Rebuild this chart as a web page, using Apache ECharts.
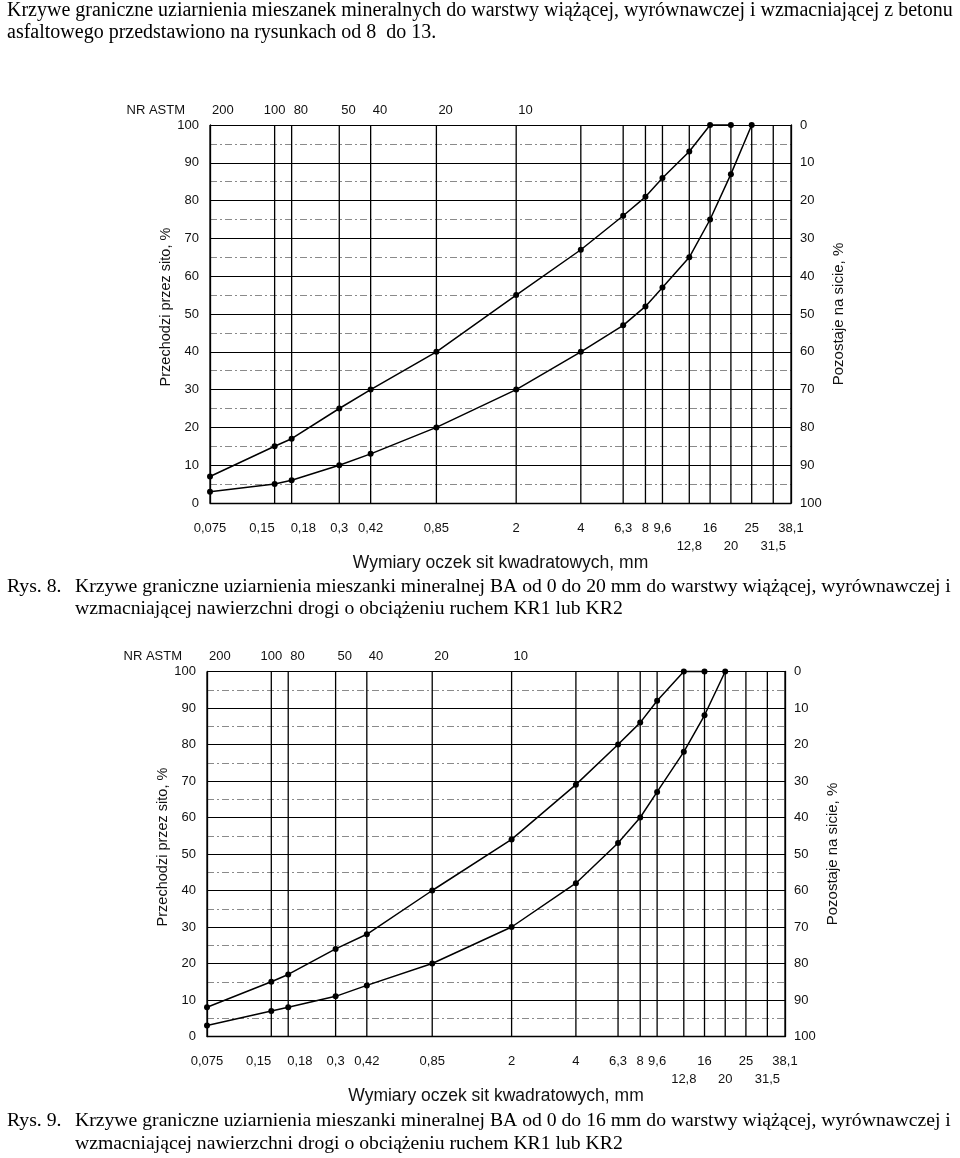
<!DOCTYPE html>
<html>
<head>
<meta charset="utf-8">
<script src="https://cdn.jsdelivr.net/npm/echarts@6/dist/echarts.min.js"></script>
<style>
  html, body { margin: 0; padding: 0; background: #fff; }
  #chart { width: 960px; height: 1158px; }
</style>
</head>
<body>
<div id="chart"></div>
<script>
// ---- sieve scale (mm) and labels ----
const sieveSizes = [0.075, 0.15, 0.18, 0.3, 0.42, 0.85, 2, 4, 6.3, 8, 9.6, 12.8, 16, 20, 25, 31.5, 38.1];
const sieveLabels = ['0,075', '0,15', '0,18', '0,3', '0,42', '0,85', '2', '4', '6,3', '8', '9,6', '12,8', '16', '20', '25', '31,5', '38,1'];
const sieveLabelRow = [0, 0, 0, 0, 0, 0, 0, 0, 0, 0, 0, 1, 0, 1, 0, 1, 0];
const astmLabels = ['200', '100', '80', '50', '40', '20', '10', '', '', '', '', '', '', '', '', '', ''];
const astmTitle = 'NR ASTM';

// ---- Rys. 8: BA 0/20 mm ----
const rys8UpperSieves = [0.075, 0.15, 0.18, 0.3, 0.42, 0.85, 2, 4, 6.3, 8, 9.6, 12.8, 16, 20];
const rys8Upper = [7, 15, 17, 25, 30, 40, 55, 67, 76, 81, 86, 93, 100, 100];
const rys8LowerSieves = [0.075, 0.15, 0.18, 0.3, 0.42, 0.85, 2, 4, 6.3, 8, 9.6, 12.8, 16, 20, 25];
const rys8Lower = [3, 5, 6, 10, 13, 20, 30, 40, 47, 52, 57, 65, 75, 87, 100];

// ---- Rys. 9: BA 0/16 mm ----
const rys9UpperSieves = [0.075, 0.15, 0.18, 0.3, 0.42, 0.85, 2, 4, 6.3, 8, 9.6, 12.8, 16];
const rys9Upper = [8, 15, 17, 24, 28, 40, 54, 69, 80, 86, 92, 100, 100];
const rys9LowerSieves = [0.075, 0.15, 0.18, 0.3, 0.42, 0.85, 2, 4, 6.3, 8, 9.6, 12.8, 16, 20];
const rys9Lower = [3, 7, 8, 11, 14, 20, 30, 42, 53, 60, 67, 78, 88, 100];

// ---- texts ----
const introLines = [
  'Krzywe graniczne uziarnienia mieszanek mineralnych do warstwy wiążącej, wyrównawczej i wzmacniającej z betonu',
  'asfaltowego przedstawiono na rysunkach od 8  do 13.'
];
const caption8 = ['Rys. 8.', 'Krzywe graniczne uziarnienia mieszanki mineralnej BA od 0 do 20 mm do warstwy wiążącej, wyrównawczej i',
  'wzmacniającej nawierzchni drogi o obciążeniu ruchem KR1 lub KR2'];
const caption9 = ['Rys. 9.', 'Krzywe graniczne uziarnienia mieszanki mineralnej BA od 0 do 16 mm do warstwy wiążącej, wyrównawczej i',
  'wzmacniającej nawierzchni drogi o obciążeniu ruchem KR1 lub KR2'];
const yNameLeft = 'Przechodzi przez sito, %';
const yNameRight = 'Pozostaje na sicie, %';
const xName = 'Wymiary oczek sit kwadratowych, mm';

const SANS = '"Liberation Sans", Arial, sans-serif';
const SERIF = '"Liberation Serif", "Times New Roman", serif';
const TICK_FONT = '13px ' + SANS;

const measureCtx = document.createElement('canvas').getContext('2d');
measureCtx.font = TICK_FONT;
function textW(s) { return s ? measureCtx.measureText(s).width : 0; }

function pairs(xs, ys) { return xs.map((x, i) => [x, ys[i]]); }

function txt(text, x, y, align) {
  return {
    type: 'text',
    style: {
      text, x, y, align, verticalAlign: 'middle', textAlign: align, textVerticalAlign: 'middle',
      font: TICK_FONT, fill: '#111'
    }
  };
}

// label collides with its neighbour in the same label row when centred
function collides(api, labels, i, j, rows) {
  if (j < 0 || j >= sieveSizes.length || !labels[i] || !labels[j]) return false;
  if (rows && rows[i] !== rows[j]) return false;
  const d = Math.abs(api.coord([sieveSizes[j], 0])[0] - api.coord([sieveSizes[i], 0])[0]);
  return (textW(labels[i]) + textW(labels[j])) / 2 + 3 > d;
}

function renderSieve(params, api) {
  const i = params.dataIndex;
  const x = api.value(0);
  const b = api.coord([x, 0]);
  const t = api.coord([x, 100]);

  const children = [{
    type: 'line',
    shape: { x1: b[0], y1: b[1], x2: t[0], y2: t[1] },
    style: { stroke: '#000', lineWidth: 1.3 }
  }];
  const ly = b[1] + (sieveLabelRow[i] ? 43 : 25);
  if (collides(api, sieveLabels, i, i + 1, sieveLabelRow)) children.push(txt(sieveLabels[i], b[0], ly, 'right'));
  else if (collides(api, sieveLabels, i, i - 1, sieveLabelRow)) children.push(txt(sieveLabels[i], b[0] - 1, ly, 'left'));
  else children.push(txt(sieveLabels[i], b[0], ly, 'center'));

  if (astmLabels[i]) {
    if (collides(api, astmLabels, i, i + 1, null)) children.push(txt(astmLabels[i], t[0], t[1] - 15, 'center'));
    else children.push(txt(astmLabels[i], t[0] + 2, t[1] - 15, 'left'));
  }
  if (i === 0) children.push(txt(astmTitle, t[0] - 25, t[1] - 15, 'right'));
  return { type: 'group', children };
}

function xAxisFor(gi) {
  return {
    gridIndex: gi, type: 'log', logBase: 10, min: 0.075, max: 38.1,
    name: xName, nameLocation: 'middle', nameGap: 51, nameMoveOverlap: false,
    nameTextStyle: { fontFamily: SANS, fontSize: 17.5, color: '#111' },
    axisLine: { show: true, lineStyle: { color: '#000', width: 1.3 } },
    axisTick: { show: false }, axisLabel: { show: false },
    splitLine: { show: false }, minorSplitLine: { show: false }
  };
}
function yLeftFor(gi) {
  return {
    gridIndex: gi, type: 'value', min: 0, max: 100, interval: 10, position: 'left',
    name: yNameLeft, nameLocation: 'middle', nameRotate: 90, nameGap: 37, nameMoveOverlap: false,
    nameTextStyle: { fontFamily: SANS, fontSize: 14.5, color: '#111', padding: [0, 0, 0, 14] },
    axisLine: { show: true, lineStyle: { color: '#000', width: 1.3 } },
    axisTick: { show: false },
    axisLabel: { fontFamily: SANS, fontSize: 13, color: '#111', margin: 11 },
    splitLine: { show: true, lineStyle: { color: '#000', width: 1.1 } },
    minorTick: { show: false, splitNumber: 2 },
    minorSplitLine: { show: true, lineStyle: { color: '#8a8a8a', width: 1, type: [7, 3, 2, 3] } }
  };
}
function yRightFor(gi) {
  return {
    gridIndex: gi, type: 'value', min: 0, max: 100, interval: 10, position: 'right', inverse: true,
    name: yNameRight, nameLocation: 'middle', nameRotate: 90, nameGap: 40, nameMoveOverlap: false,
    nameTextStyle: { fontFamily: SANS, fontSize: 15, color: '#111' },
    axisLine: { show: true, lineStyle: { color: '#000', width: 1.3 } },
    axisTick: { show: false },
    axisLabel: { fontFamily: SANS, fontSize: 13, color: '#111', margin: 9 },
    splitLine: { show: false }
  };
}
function curve(xi, yi, data) {
  return {
    type: 'line', xAxisIndex: xi, yAxisIndex: yi, data, z: 5,
    symbol: 'circle', symbolSize: 6, showSymbol: true,
    itemStyle: { color: '#000' }, lineStyle: { color: '#000', width: 1.5 },
    clip: false
  };
}
function sieveSeries(xi, yi) {
  return {
    type: 'custom', xAxisIndex: xi, yAxisIndex: yi, z: 2, clip: false,
    data: sieveSizes.map(s => [s]), renderItem: renderSieve
  };
}

function textEl(text, left, top, size, family) {
  return { type: 'text', left, top, style: { text, font: size + 'px ' + family, fill: '#000' } };
}

const option = {
  animation: false,
  backgroundColor: '#fff',
  grid: [
    { left: 210, right: 169, top: 125, height: 378 },
    { left: 207, right: 175, top: 671.5, height: 365 }
  ],
  xAxis: [xAxisFor(0), xAxisFor(1)],
  yAxis: [yLeftFor(0), yRightFor(0), yLeftFor(1), yRightFor(1)],
  series: [
    sieveSeries(0, 0),
    curve(0, 0, pairs(rys8UpperSieves, rys8Upper)),
    curve(0, 0, pairs(rys8LowerSieves, rys8Lower)),
    sieveSeries(1, 2),
    curve(1, 2, pairs(rys9UpperSieves, rys9Upper)),
    curve(1, 2, pairs(rys9LowerSieves, rys9Lower))
  ],
  graphic: [
    textEl(introLines[0], 7, 1, 20, SERIF),
    textEl(introLines[1], 7, 23, 20, SERIF),
    textEl(caption8[0], 7, 577, 19.7, SERIF),
    textEl(caption8[1], 75, 577, 19.7, SERIF),
    textEl(caption8[2], 75, 599, 19.7, SERIF),
    textEl(caption9[0], 7, 1111, 19.7, SERIF),
    textEl(caption9[1], 75, 1111, 19.7, SERIF),
    textEl(caption9[2], 75, 1134, 19.7, SERIF)
  ]
};

const chart = echarts.init(document.getElementById('chart'), null, { renderer: 'canvas' });
chart.setOption(option);
</script>
</body>
</html>
